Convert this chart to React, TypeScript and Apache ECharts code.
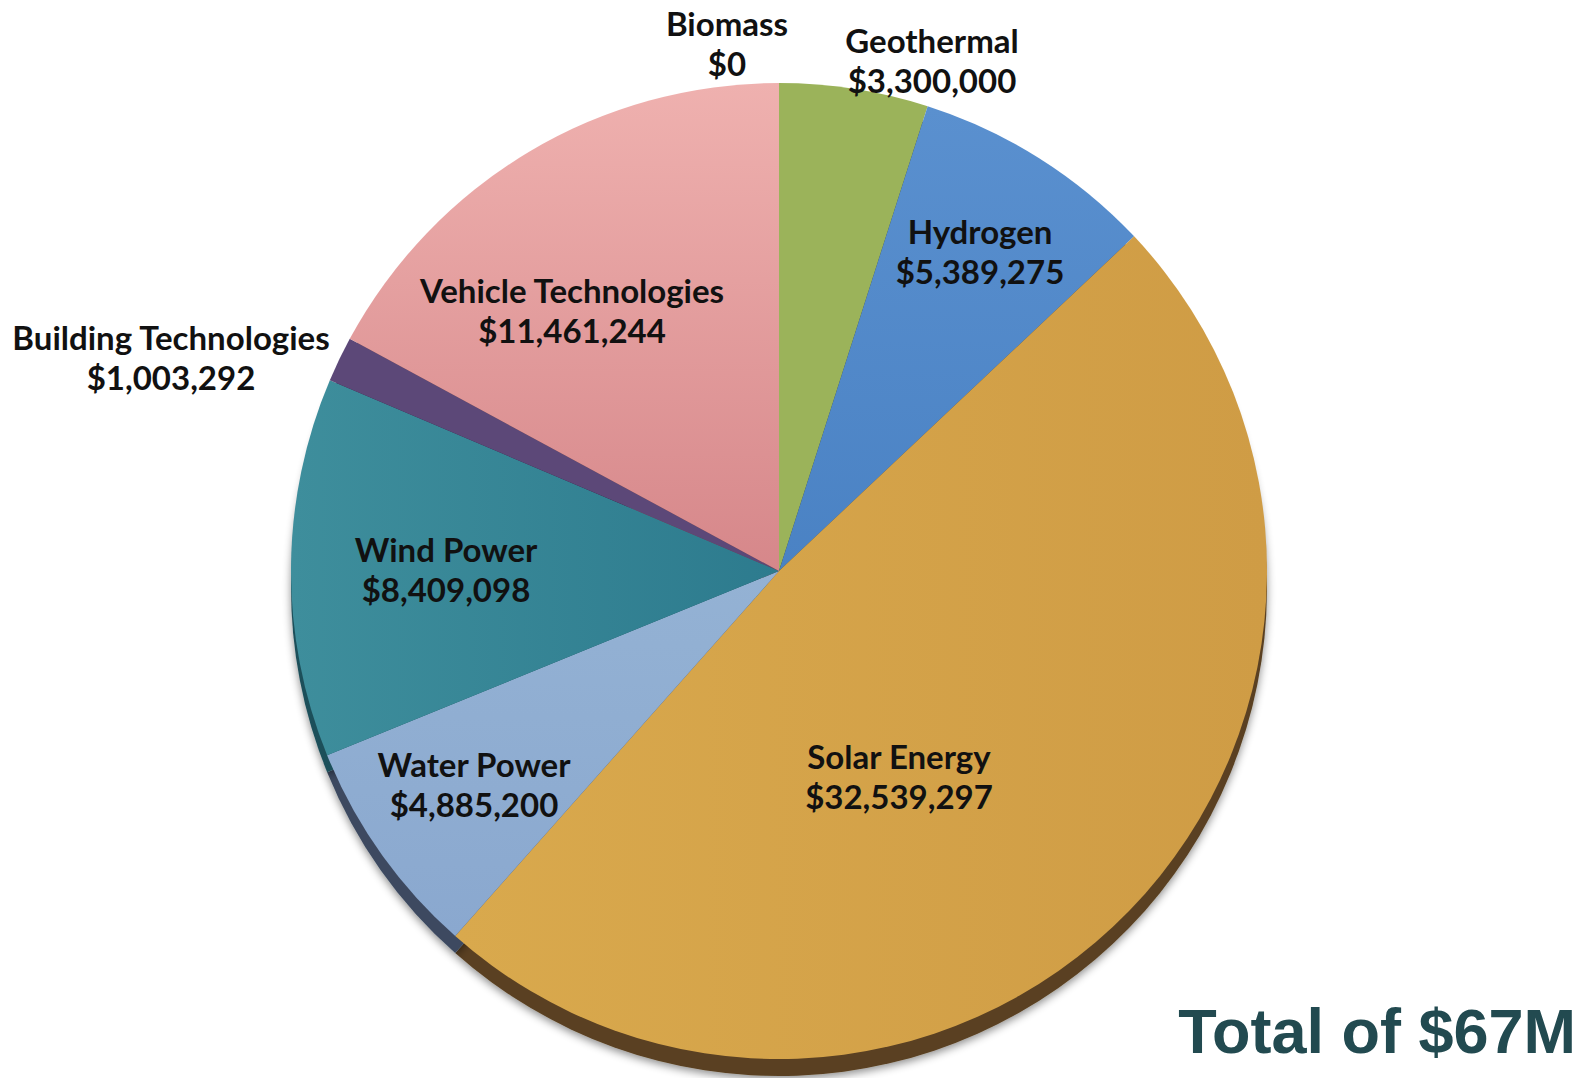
import React, { useEffect, useRef } from "react";
import * as echarts from "echarts";

const categories = [
  "Biomass",
  "Geothermal",
  "Hydrogen",
  "Solar Energy",
  "Water Power",
  "Wind Power",
  "Building Technologies",
  "Vehicle Technologies",
];
const amounts = [0, 3300000, 5389275, 32539297, 4885200, 8409098, 1003292, 11461244];
const totalLabel = "Total of $67M";

const lin = (a: string, b: string, x2 = 0, y2 = 1) =>
  new echarts.graphic.LinearGradient(0, 0, x2, y2, [
    { offset: 0, color: a },
    { offset: 1, color: b },
  ]);

const faceColors = [
  "#9bb35a",
  "#9bb35a",
  lin("#5a90cf", "#4a82c4"),
  lin("#d9a94d", "#cf9c45", 1, 0),
  lin("#94b2d4", "#8aa8cf"),
  lin("#3e8e9c", "#2d7b8e", 1, 0),
  "#5c4878",
  lin("#efb1af", "#d6878a"),
];
const rimColors = ["#3f4a24", "#3f4a24", "#283c58", "#5a4121", "#3c4a60", "#1f4f5a", "#2e2440", "#6e4444"];

// label anchor positions (layout only)
const labelAnchors: Record<string, [number, number]> = {
  Biomass: [727, 43],
  Geothermal: [932, 60],
  Hydrogen: [980, 251],
  "Solar Energy": [899, 776],
  "Water Power": [474, 784],
  "Wind Power": [446, 569],
  "Building Technologies": [171, 357],
  "Vehicle Technologies": [572, 310],
};

const fmt = (v: number) => "$" + v.toLocaleString("en-US");

export default function App() {
  const ref = useRef<HTMLDivElement>(null);
  useEffect(() => {
    document.body.style.margin = "0";
    const chart = echarts.init(ref.current!, null, { renderer: "svg" });
    const cx = 779;
    const cy = 571;
    const r = 488;
    chart.setOption({
      animation: false,
      backgroundColor: "#ffffff",
      graphic: [
        {
          type: "text",
          right: 12,
          top: 999,
          style: {
            text: totalLabel,
            fill: "#224a50",
            font: "bold 63px 'Liberation Sans', Arial, sans-serif",
          },
        },
      ],
      series: [
        {
          type: "pie",
          silent: true,
          z: 1,
          center: [cx, cy + 17],
          radius: r,
          startAngle: 90,
          clockwise: true,
          label: { show: false },
          labelLine: { show: false },
          itemStyle: {
            borderWidth: 0,
            shadowBlur: 8,
            shadowColor: "rgba(0,0,0,0.45)",
            shadowOffsetY: 3,
          },
          data: categories.map((n, i) => ({
            name: n,
            value: amounts[i],
            itemStyle: { color: rimColors[i] },
          })),
        },
        {
          type: "pie",
          silent: true,
          z: 2,
          center: [cx, cy],
          radius: r,
          startAngle: 90,
          clockwise: true,
          avoidLabelOverlap: false,
          itemStyle: { borderWidth: 0 },
          label: {
            show: true,
            formatter: (p: any) => p.name + "\n" + fmt(p.value),
            fontFamily: "Lato, 'Open Sans', sans-serif",
            fontWeight: "bold",
            fontSize: 33,
            lineHeight: 40,
            color: "#111111",
            align: "center",
          },
          labelLine: { show: false },
          labelLayout: (params: any) => {
            const name = categories[params.dataIndex];
            const a = labelAnchors[name];
            return { x: a[0], y: a[1], align: "center", verticalAlign: "middle" };
          },
          data: categories.map((n, i) => ({
            name: n,
            value: amounts[i],
            itemStyle: { color: faceColors[i] },
          })),
        },
      ],
    });
    return () => chart.dispose();
  }, []);
  return <div ref={ref} style={{ width: 1588, height: 1078 }} />;
}
